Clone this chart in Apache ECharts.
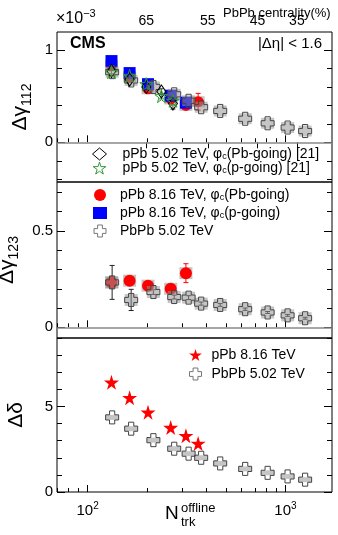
<!DOCTYPE html>
<html lang="en">
<head>
    <meta charset="UTF-8"/>
    <script src="https://cdn.jsdelivr.net/npm/echarts@6/dist/echarts.min.js"></script>
    <title>cms_cme_ppb</title>
    <style>html, body {margin: 0; padding: 0; background: #fff;}</style>
</head>
<body>
<div id="main" style="width: 338px;height: 535px"></div>
<script type="text/javascript">
    // multiplicity bins (N_trk^offline)
    var nPPb816 = [132, 163, 202, 263, 314, 362];
    var nPPb502 = [132, 163, 198, 236, 270];
    var nPbPb = [133, 166, 215, 274, 324, 375, 468, 626, 813, 1026, 1258];

    // delta gamma 112 (x10^-3)
    var g112PbGoing816 = [0.83, 0.71, 0.58, 0.47, 0.40, 0.44];
    var g112PbGoing816Err = [0.02, 0.02, 0.02, 0.02, 0.03, 0.09];
    var g112PGoing816 = [0.88, 0.75, 0.63, 0.505, 0.43];
    var g112PbPb = [0.76, 0.67, 0.60, 0.52, 0.45, 0.38, 0.34, 0.255, 0.206, 0.16, 0.122];
    var g112PbGoing502 = [0.77, 0.68, 0.60, 0.55, 0.42];
    var g112PbGoing502Err = [0.03, 0.03, 0.03, 0.03, 0.06];
    var g112PGoing502 = [0.76, 0.72, 0.63, 0.50, 0.45];
    var g112PGoing502Err = [0.04, 0.04, 0.03, 0.03, 0.04];

    // delta gamma 123 (x10^-3)
    var g123PbGoing816 = [0.233, 0.242, 0.216, 0.200, 0.281];
    var g123PbGoing816Err = [0.03, 0.02, 0.02, 0.02, 0.049];
    var g123PbPb = [0.233, 0.142, 0.183, 0.157, 0.154, 0.123, 0.116, 0.094, 0.077, 0.062, 0.047];
    var g123PbPbErr = [0.088, 0.055, 0.012, 0.01, 0.01, 0.008, 0.007, 0.006, 0.005, 0.005, 0.005];

    // delta delta (x10^-3)
    var dDeltaPPb = [6.41, 5.51, 4.66, 3.77, 3.29, 2.84];
    var dDeltaPbPb = [4.36, 3.70, 3.03, 2.53, 2.24, 2.0, 1.67, 1.35, 1.12, 0.91, 0.72];

    // axes
    var xMajorTicks = [100, 1000];
    var xMinorTicks = [70, 80, 90, 200, 300, 400, 500, 600, 700, 800, 900];
    var centralityN = [198, 405, 722, 1143];
    var centralityLabels = ['65', '55', '45', '35'];
    var yTicks = [
        [-0.4, -0.2, 0, 0.2, 0.4, 0.6, 0.8, 1.0],
        [0, 0.1, 0.2, 0.3, 0.4, 0.5, 0.6, 0.7],
        [0, 1, 2, 3, 4, 5, 6, 7, 8, 9]
    ];
    var yLabels = [[0, 1], [0, 0.5], [0, 5]];
    var yRanges = [[-0.43, 1.195], [-0.0555, 0.754], [0, 9]];
    var yNames = ['{a|Δγ}{s|112}', '{a|Δγ}{s|123}', '{a|Δδ}'];
    var yNameGaps = [19, 15, 30];

    var FONT = 'Liberation Sans, Arial, sans-serif';
    var CROSS = 'path://M3,0H7V3H10V7H7V10H3V7H0V3H3Z';
    var STAR = 'path://M50,0L61,35L98,35L68,57L79,91L50,70L21,91L32,57L2,35L39,35Z';
    var X_MIN = 70, X_MAX = 1720;

    var myChart = echarts.init(document.getElementById('main'));

    function zip(xs, ys) {
        return xs.map(function (x, i) { return [x, ys[i]]; });
    }

    var grids = [
        {left: 57, right: 6, top: 32, height: 150},
        {left: 57, right: 6, top: 182, height: 156},
        {left: 57, right: 6, top: 338, height: 154}
    ].map(function (g) {
        g.show = true;
        g.borderColor = '#000';
        g.borderWidth = 1;
        g.containLabel = false;
        g.outerBoundsMode = 'none';
        return g;
    });

    var xAxes = [];
    var yAxes = [];
    for (var g = 0; g < 3; g++) {
        // major x ticks (with 10^n labels on the last panel)
        xAxes.push({
            type: 'log', gridIndex: g, min: X_MIN, max: X_MAX, position: 'bottom',
            axisLine: {show: false}, splitLine: {show: false},
            axisTick: {inside: true, length: 7, customValues: xMajorTicks, lineStyle: {color: '#000'}},
            axisLabel: {
                show: g === 2, customValues: xMajorTicks, margin: 9,
                formatter: function (v) {
                    return '{b|10}{s|' + Math.round(Math.log10(v)) + '}';
                },
                rich: {
                    b: {fontSize: 15, fontFamily: FONT, color: '#000'},
                    s: {fontSize: 10, fontFamily: FONT, color: '#000', padding: [0, 0, 9, 0]}
                }
            }
        });
        xAxes.push({
            type: 'log', gridIndex: g, min: X_MIN, max: X_MAX, position: 'bottom',
            axisLine: {show: false}, splitLine: {show: false},
            axisTick: {inside: true, length: 4, customValues: xMinorTicks, lineStyle: {color: '#000'}},
            axisLabel: {show: false}
        });
        var sides = ['left', 'right'];
        for (var s = 0; s < 2; s++) {
            yAxes.push({
                type: 'value', gridIndex: g, position: sides[s], min: yRanges[g][0], max: yRanges[g][1],
                axisLine: {show: false}, splitLine: {show: false},
                axisTick: {inside: true, length: 8, customValues: yLabels[g], lineStyle: {color: '#000'}},
                axisLabel: {
                    show: s === 0, customValues: yLabels[g], margin: 4,
                    fontSize: 15, fontFamily: FONT, color: '#000'
                },
                name: s === 0 ? yNames[g] : '',
                nameLocation: 'middle', nameRotate: 90, nameGap: yNameGaps[g],
                nameTextStyle: {
                    rich: {
                        a: {fontSize: 21, fontFamily: FONT, color: '#000'},
                        s: {fontSize: 14, fontFamily: FONT, color: '#000', padding: [14, 0, 0, 0]}
                    }
                }
            });
            yAxes.push({
                type: 'value', gridIndex: g, position: sides[s], min: yRanges[g][0], max: yRanges[g][1],
                axisLine: {show: false}, splitLine: {show: false},
                axisTick: {inside: true, length: 5, customValues: yTicks[g], lineStyle: {color: '#000'}},
                axisLabel: {show: false}
            });
        }
    }
    // PbPb centrality on top of the first panel
    xAxes.push({
        type: 'log', gridIndex: 0, min: X_MIN, max: X_MAX, position: 'top',
        axisLine: {show: false}, splitLine: {show: false},
        axisTick: {inside: true, length: 6, customValues: centralityN, lineStyle: {color: '#000'}},
        axisLabel: {
            customValues: centralityN, margin: 4, fontSize: 14, fontFamily: FONT, color: '#000',
            formatter: function (v) {
                var best = 0;
                centralityN.forEach(function (n, i) {
                    if (Math.abs(Math.log(n / v)) < Math.abs(Math.log(centralityN[best] / v))) best = i;
                });
                return centralityLabels[best];
            }
        }
    });

    function scatter(name, xs, ys, g, symbol, size, style) {
        return {
            name: name, type: 'scatter', xAxisIndex: 2 * g, yAxisIndex: 4 * g,
            symbol: symbol, symbolSize: size, data: zip(xs, ys),
            itemStyle: Object.assign({opacity: 1}, style), silent: true, emphasis: {disabled: true}
        };
    }

    function errorBars(xs, ys, es, g, color) {
        return {
            type: 'custom', xAxisIndex: 2 * g, yAxisIndex: 4 * g, silent: true,
            encode: {x: 0, y: 1},
            data: xs.map(function (x, i) { return [x, ys[i], es[i]]; }),
            renderItem: function (params, api) {
                var x = api.value(0), y = api.value(1), e = api.value(2);
                var hi = api.coord([x, y + e]), lo = api.coord([x, y - e]);
                var st = {stroke: color, lineWidth: 1};
                return {
                    type: 'group', children: [
                        {type: 'line', shape: {x1: hi[0], y1: hi[1], x2: lo[0], y2: lo[1]}, style: st},
                        {type: 'line', shape: {x1: hi[0] - 2.5, y1: hi[1], x2: hi[0] + 2.5, y2: hi[1]}, style: st},
                        {type: 'line', shape: {x1: lo[0] - 2.5, y1: lo[1], x2: lo[0] + 2.5, y2: lo[1]}, style: st}
                    ]
                };
            }
        };
    }

    function zeroLine() {
        return {
            silent: true, symbol: 'none', label: {show: false},
            lineStyle: {color: '#888', width: 1.5, type: 'solid'},
            data: [{yAxis: 0}]
        };
    }

    var nameRedPb = 'pPb 8.16 TeV, φc(Pb-going)';
    var nameBlueP = 'pPb 8.16 TeV, φc(p-going)';
    var namePbPb = 'PbPb 5.02 TeV';
    var nameDiam = 'pPb 5.02 TeV, φc(Pb-going) [21]';
    var nameStarG = 'pPb 5.02 TeV, φc(p-going) [21]';
    var nameStar = 'pPb 8.16 TeV';

    var boxStyle = {color: 'rgba(150,150,150,0.55)'};
    var crossStyle = {color: 'rgba(255,255,255,0)', borderColor: '#444', borderWidth: 1};
    var redStyle = {color: '#ff0000'};
    var blueStyle = {color: '#0000ff'};

    var series = [
        // panel 1: delta gamma 112
        scatter('sys816', nPPb816, g112PbGoing816, 0, 'rect', [13, 11], boxStyle),
        errorBars(nPPb816, g112PbGoing816, g112PbGoing816Err, 0, '#ff0000'),
        scatter(nameRedPb, nPPb816, g112PbGoing816, 0, 'circle', 11, redStyle),
        scatter(nameBlueP, nPPb816.slice(0, 5), g112PGoing816, 0, 'rect', 12, blueStyle),
        scatter('sysPbPb', nPbPb, g112PbPb, 0, 'rect', [13, 11], boxStyle),
        Object.assign(scatter(namePbPb, nPbPb, g112PbPb, 0, CROSS, 13, crossStyle), {markLine: zeroLine()}),
        errorBars(nPPb502, g112PbGoing502, g112PbGoing502Err, 0, '#333'),
        scatter(nameDiam, nPPb502, g112PbGoing502, 0, 'diamond', [9, 13],
            {color: 'rgba(255,255,255,0)', borderColor: '#000', borderWidth: 1}),
        errorBars(nPPb502, g112PGoing502, g112PGoing502Err, 0, '#339933'),
        scatter(nameStarG, nPPb502, g112PGoing502, 0, STAR, 13,
            {color: 'rgba(255,255,255,0)', borderColor: '#339933', borderWidth: 1}),

        // panel 2: delta gamma 123
        scatter('sys816', nPPb816.slice(0, 5), g123PbGoing816, 1, 'rect', [13, 12], boxStyle),
        errorBars(nPPb816.slice(0, 5), g123PbGoing816, g123PbGoing816Err, 1, '#ff0000'),
        scatter(nameRedPb, nPPb816.slice(0, 5), g123PbGoing816, 1, 'circle', 12, redStyle),
        scatter('sysPbPb', nPbPb, g123PbPb, 1, 'rect', [13, 12], boxStyle),
        errorBars(nPbPb, g123PbPb, g123PbPbErr, 1, '#222'),
        Object.assign(scatter(namePbPb, nPbPb, g123PbPb, 1, CROSS, 13, crossStyle), {markLine: zeroLine()}),

        // panel 3: delta delta
        scatter(nameStar, nPPb816, dDeltaPPb, 2, STAR, 15, redStyle),
        scatter('sysPbPb', nPbPb, dDeltaPbPb, 2, 'rect', [13, 5], boxStyle),
        scatter(namePbPb, nPbPb, dDeltaPbPb, 2, CROSS, 13, crossStyle)
    ];

    function legendText(name) {
        return name.replace('φc', '{p|φ}{c|c}');
    }
    var legendRich = {
        p: {fontSize: 14, lineHeight: 14, fontFamily: FONT, color: '#000'},
        c: {fontSize: 9, lineHeight: 5, verticalAlign: 'bottom', fontFamily: FONT, color: '#000'}
    };
    var crossLegendItem = {name: namePbPb, itemStyle: {borderColor: '#777'}};
    function legend(data, left, top, gap, pad) {
        return {
            data: data, orient: 'vertical', left: left, top: top, itemGap: gap,
            itemWidth: 14, itemHeight: 12, selectedMode: false, formatter: legendText,
            itemStyle: {borderWidth: 1},
            textStyle: {
                fontSize: 14, lineHeight: 14, fontFamily: FONT, color: '#000',
                padding: [0, 0, 0, pad], rich: legendRich
            }
        };
    }

    var option = {
        animation: false,
        grid: grids,
        xAxis: xAxes,
        yAxis: yAxes,
        legend: [
            legend([nameDiam, nameStarG], 87, 142, 0, 11),
            legend([nameRedPb, nameBlueP, crossLegendItem], 88, 183, 4, 8),
            legend([nameStar, crossLegendItem], 184, 343, 5, 4)
        ],
        graphic: [
            {type: 'text', left: 56, top: 8, style: {
                text: '{b|×10}{s|−3}', rich: {
                    b: {fontSize: 16, fontFamily: FONT, fill: '#000'},
                    s: {fontSize: 11, fontFamily: FONT, fill: '#000', padding: [0, 0, 10, 0]}
                }}},
            {type: 'text', left: 223, top: 7, style: {
                text: 'PbPb centrality(%)', fontSize: 13, fontFamily: FONT, fill: '#000'}},
            {type: 'text', left: 70, top: 36, style: {
                text: 'CMS', fontSize: 16, fontWeight: 'bold', fontFamily: FONT, fill: '#000'}},
            {type: 'text', right: 16, top: 36, style: {
                text: '|Δη| < 1.6', fontSize: 15, fontFamily: FONT, fill: '#000'}},
            {type: 'text', left: 165, top: 504, style: {
                text: 'N', fontSize: 19, fontFamily: FONT, fill: '#000'}},
            {type: 'text', left: 181, top: 502, style: {
                text: 'offline', fontSize: 13, fontFamily: FONT, fill: '#000'}},
            {type: 'text', left: 181, top: 516, style: {
                text: 'trk', fontSize: 13, fontFamily: FONT, fill: '#000'}}
        ],
        series: series
    };

    myChart.setOption(option);
</script>
</body>
</html>
